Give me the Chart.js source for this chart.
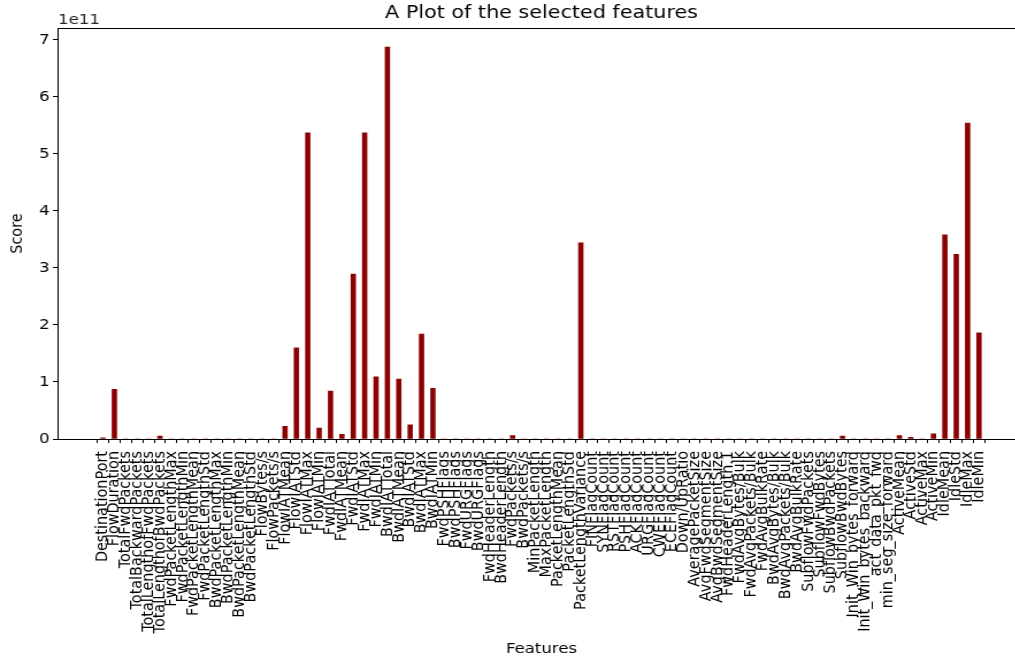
<!DOCTYPE html>
<html>
<head>
<meta charset="utf-8">
<script src="https://cdn.jsdelivr.net/npm/chart.js@4.4.0/dist/chart.umd.min.js"></script>
<style>
  html, body { margin: 0; padding: 0; background: #fff; overflow: hidden; width: 1015px; height: 661px; }
  #wrap { position: absolute; left: 0; top: 0; width: 942px; height: 661px;
          transform: scaleX(1.15); transform-origin: 0 0; }
  #c { display: block; }
</style>
</head>
<body>
<div id="wrap"><canvas id="c" width="942" height="661"></canvas></div>
<script>
const features = [
  "DestinationPort","FlowDuration","TotalFwdPackets","TotalBackwardPackets","TotalLengthofFwdPackets",
  "TotalLengthofBwdPackets","FwdPacketLengthMax","FwdPacketLengthMin","FwdPacketLengthMean","FwdPacketLengthStd",
  "BwdPacketLengthMax","BwdPacketLengthMin","BwdPacketLengthMean","BwdPacketLengthStd","FlowBytes/s",
  "FlowPackets/s","FlowIATMean","FlowIATStd","FlowIATMax","FlowIATMin",
  "FwdIATTotal","FwdIATMean","FwdIATStd","FwdIATMax","FwdIATMin",
  "BwdIATTotal","BwdIATMean","BwdIATStd","BwdIATMax","BwdIATMin",
  "FwdPSHFlags","BwdPSHFlags","FwdURGFlags","BwdURGFlags","FwdHeaderLength",
  "BwdHeaderLength","FwdPackets/s","BwdPackets/s","MinPacketLength","MaxPacketLength",
  "PacketLengthMean","PacketLengthStd","PacketLengthVariance","FINFlagCount","SYNFlagCount",
  "RSTFlagCount","PSHFlagCount","ACKFlagCount","URGFlagCount","CWEFlagCount",
  "ECEFlagCount","Down/UpRatio","AveragePacketSize","AvgFwdSegmentSize","AvgBwdSegmentSize",
  "FwdHeaderLength.1","FwdAvgBytes/Bulk","FwdAvgPackets/Bulk","FwdAvgBulkRate","BwdAvgBytes/Bulk",
  "BwdAvgPackets/Bulk","BwdAvgBulkRate","SubflowFwdPackets","SubflowFwdBytes","SubflowBwdPackets",
  "SubflowBwdBytes","Init_Win_bytes_forward","Init_Win_bytes_backward","act_data_pkt_fwd","min_seg_size_forward",
  "ActiveMean","ActiveStd","ActiveMax","ActiveMin","IdleMean",
  "IdleStd","IdleMax","IdleMin"
];

const scores = [
  2e9, 8.7e10, 0, 0, 0,
  5e9, 0, 0, 0, 0,
  0, 0, 0, 0, 0,
  0, 2.2e10, 1.6e11, 5.37e11, 1.9e10,
  8.4e10, 8e9, 2.89e11, 5.37e11, 1.09e11,
  6.87e11, 1.05e11, 2.5e10, 1.84e11, 8.9e10,
  0, 0, 0, 0, 0,
  0, 6e9, 0, 0, 0,
  0, 0, 3.44e11, 0, 0,
  0, 0, 0, 0, 0,
  0, 0, 0, 0, 0,
  0, 0, 0, 0, 0,
  0, 0, 0, 0, 0,
  5e9, 0, 0, 0, 0,
  6e9, 3e9, 0, 9e9, 3.58e11,
  3.24e11, 5.54e11, 1.86e11
];

const yTicks = [0, 1e11, 2e11, 3e11, 4e11, 5e11, 6e11, 7e11];
const yTickLabels = ["0","1","2","3","4","5","6","7"];
const offsetText = "1e11";

const FONT = "DejaVu Sans";
const STRETCH = 1.15;          // the reference is stretched horizontally

// where the first and last category ticks sit (screen px), converted to canvas px
const FIRST_TICK_PX = 103 / STRETCH;
const LAST_TICK_PX = 979 / STRETCH;

const alignPlugin = {
  id: 'alignX',
  afterLayout(chart) {
    const s = chart.scales.x;
    const n = features.length - 1;
    const p0 = s.getPixelForValue(0);
    const pn = s.getPixelForValue(n);
    const k = (pn - p0) / n;
    const Pmin = p0 + s.min * k;
    const L = (s.max - s.min) * k;
    const k2 = (LAST_TICK_PX - FIRST_TICK_PX) / n;
    const newMin = -(FIRST_TICK_PX - Pmin) / k2;
    s.min = newMin;
    s.max = newMin + L / k2;
    s.configure();
  }
};

const framePlugin = {
  id: 'frame',
  afterDraw(chart) {
    const {ctx, chartArea: a} = chart;
    ctx.save();
    ctx.strokeStyle = '#000';
    ctx.lineWidth = 1;
    ctx.strokeRect(Math.round(a.left) + 0.5, Math.round(a.top) + 0.5,
                   Math.round(a.right - a.left), Math.round(a.bottom - a.top));
    ctx.fillStyle = '#262626';
    ctx.font = '14.4px "' + FONT + '"';
    ctx.textAlign = 'left';
    ctx.textBaseline = 'alphabetic';
    ctx.fillText(offsetText, a.left + 1, 24);
    ctx.restore();
  }
};

new Chart(document.getElementById('c'), {
  type: 'bar',
  data: {
    datasets: [{
      data: scores.map((v, i) => ({x: i, y: v})),
      backgroundColor: '#8b0000',
      borderWidth: 0,
      barThickness: 3.95
    }]
  },
  plugins: [alignPlugin, framePlugin],
  options: {
    responsive: false,
    maintainAspectRatio: false,
    animation: false,
    devicePixelRatio: 1,
    layout: { padding: { left: 0, right: 49.8, top: 0, bottom: 0 } },
    plugins: {
      legend: { display: false },
      tooltip: { enabled: false },
      title: {
        display: true,
        fullSize: false,
        text: 'A Plot of the selected features',
        color: '#000',
        font: { family: FONT, size: 18, weight: 'normal', lineHeight: 1.2 },
        padding: { top: 3, bottom: 3.5 }
      }
    },
    scales: {
      x: {
        type: 'linear',
        offset: false,
        min: -4.04,
        max: 81.1,
        afterBuildTicks: (axis) => { axis.ticks = features.map((_, i) => ({ value: i })); },
        afterFit: (s) => { s.height = 222; },
        border: { display: false },
        grid: { drawOnChartArea: false, drawTicks: true, tickLength: 4, color: '#000', lineWidth: 1 },
        ticks: {
          autoSkip: false,
          minRotation: 90,
          maxRotation: 90,
          padding: 8,
          color: '#000',
          font: { family: FONT, size: 14.4 },
          callback: (v) => features[v]
        },
        title: {
          display: true,
          text: 'Features',
          color: '#000',
          font: { family: FONT, size: 14.4 },
          padding: { top: 0, bottom: 3.4 }
        }
      },
      y: {
        min: 0,
        max: 7.205e11,
        afterBuildTicks: (axis) => { axis.ticks = yTicks.map(v => ({ value: v })); },
        afterFit: (s) => { s.width = 57 / STRETCH; },
        border: { display: false },
        grid: { drawOnChartArea: false, drawTicks: true, tickLength: 3.5, color: '#000', lineWidth: 1 },
        ticks: {
          padding: 3,
          color: '#000',
          font: { family: FONT, size: 14.4 },
          callback: (v) => yTickLabels[yTicks.indexOf(v)]
        },
        title: {
          display: true,
          text: 'Score',
          color: '#000',
          font: { family: FONT, size: 14.4 },
          padding: { top: 6.2, bottom: 0 }
        }
      }
    }
  }
});
</script>
</body>
</html>
